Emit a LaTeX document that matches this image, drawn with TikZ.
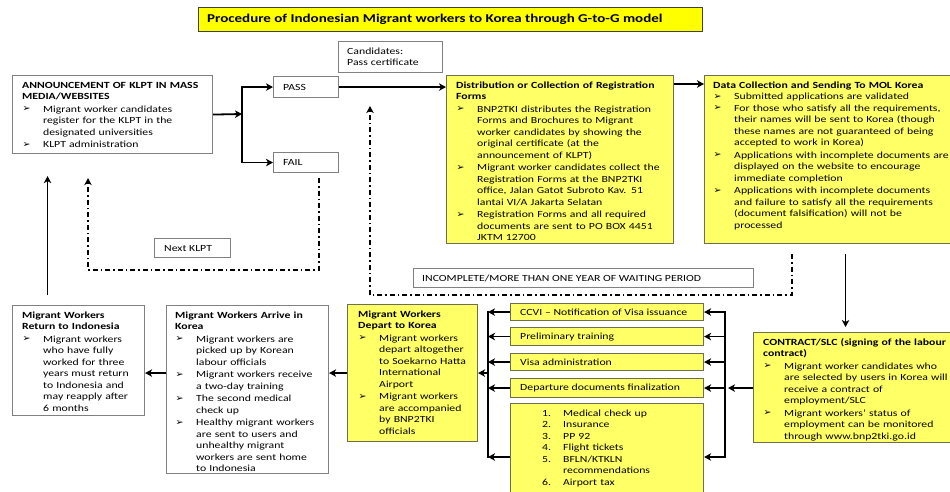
\documentclass[tikz,border=0pt]{standalone}
\usepackage{fontspec}
\usepackage{array}
\setmainfont{Carlito}[FakeStretch=1.25]
\newfontfamily\bulf{DejaVu Sans}[Scale=1.0]
\usetikzlibrary{arrows.meta}
\definecolor{yel}{HTML}{FFFF66}
\definecolor{ttl}{HTML}{FFFF00}
\definecolor{bord}{HTML}{808080}
\definecolor{ybord}{HTML}{6E6E50}
\tikzset{
 whitebox/.style={draw=bord, line width=1.1pt, fill=white},
 yelbox/.style={draw=ybord, line width=1.1pt, fill=yel},
 titlebox/.style={draw=black!75, line width=1.1pt, fill=ttl},
 arr/.style={line width=1.8pt, -{Stealth[length=7pt,width=7.5pt,inset=2pt]}},
 ln/.style={line width=1.8pt, line cap=rect},
 dd/.style={line width=2pt, dash pattern=on 5pt off 3pt on 1.5pt off 3pt},
 dda/.style={dd, -{Stealth[length=7pt,width=7.5pt,inset=2pt]}},
}
\newcommand\bodyf{\fontsize{9.4}{11.5}\selectfont}
\newcommand\itm[1]{\par\noindent\makebox[21pt][l]{\hspace{0.5pt}\raisebox{0.3pt}{\bulf\char"27A2}}\begin{tabular}[t]{@{}l@{}}#1\end{tabular}\par}
\newcommand\hd[1]{\noindent{\bfseries\begin{tabular}[t]{@{}>{\bfseries}l@{}}#1\end{tabular}}}
\newcommand\tbox[8]{%
 \pgfmathsetmacro\bxw{#5-#3}\pgfmathsetmacro\bxh{#6-#4}\pgfmathsetmacro\bxt{#5-#3-2*#7}%
 \node[#2, anchor=north west, minimum width=\bxw pt, minimum height=\bxh pt, inner sep=0pt] (#1) at (#3,#4) {};
 \node[anchor=north west, text width=\bxt pt, inner xsep=#7pt, inner ysep=5pt, align=left, font=\bodyf] (#1-t) at (#1.north west) {#8};
}
\newcommand\lbox[8]{%
 \pgfmathsetmacro\bxw{#5-#3}\pgfmathsetmacro\bxh{#6-#4}%
 \node[#2, anchor=north west, minimum width=\bxw pt, minimum height=\bxh pt, inner sep=0pt] (#1) at (#3,#4) {};
 \node[anchor=west, inner xsep=#7pt, inner ysep=0pt, font=\bodyf] (#1-t) at (#1.west) {#8};
}
\begin{document}
\begin{tikzpicture}[x=1pt,y=-1pt]
\useasboundingbox (0,0) rectangle (950,491);
\clip (0,0) rectangle (950,491);
\fill[white] (0,0) rectangle (950,491);

% title
\lbox{title}{titlebox}{198}{7}{702}{31}{9}{\fontsize{12}{14}\selectfont\bfseries Procedure of Indonesian Migrant workers to Korea through G-to-G model}

% top row
\tbox{ann}{whitebox}{12}{75}{212}{153}{10}{\hd{ANNOUNCEMENT OF KLPT IN MASS\\MEDIA/WEBSITES}
\itm{Migrant worker candidates\\register for the KLPT in the\\designated universities}
\itm{KLPT administration}}

\tbox{cand}{whitebox}{338}{41}{442}{72}{9}{\noindent\begin{tabular}[t]{@{}l@{}}Candidates:\\Pass certificate\end{tabular}}

\lbox{pass}{whitebox}{273}{76}{338}{97}{10}{PASS}
\lbox{fail}{whitebox}{273}{152}{338}{172}{10}{FAIL}

\tbox{dist}{yelbox}{446}{75}{673}{243}{10}{\hd{Distribution or Collection of Registration\\Forms}
\itm{BNP2TKI distributes the Registration\\Forms and Brochures to Migrant\\worker candidates by showing the\\original certificate (at the\\announcement of KLPT)}
\itm{Migrant worker candidates collect the\\Registration Forms at the BNP2TKI\\office, Jalan Gatot Subroto Kav. 51\\lantai VI/A Jakarta Selatan}
\itm{Registration Forms and all required\\documents are sent to PO BOX 4451\\JKTM 12700}}

\tbox{data}{yelbox}{704}{75}{962}{243}{9}{\hd{Data Collection and Sending To MOL Korea}
\itm{Submitted applications are validated}
\itm{For those who satisfy all the requirements,\\their names will be sent to Korea (though\\these names are not guaranteed of being\\accepted to work in Korea)}
\itm{Applications with incomplete documents are\\displayed on the website to encourage\\immediate completion}
\itm{Applications with incomplete documents\\and failure to satisfy all the requirements\\(document falsification) will not be\\processed}}

\lbox{nextk}{whitebox}{154}{238}{230}{257}{10}{Next KLPT}
\lbox{inc}{whitebox}{413}{268}{753}{287}{9}{INCOMPLETE/MORE THAN ONE YEAR OF WAITING PERIOD}

% bottom row
\tbox{ret}{whitebox}{12}{305}{144}{415}{10}{\hd{Migrant Workers\\Return to Indonesia}
\itm{Migrant workers\\who have fully\\worked for three\\years must return\\to Indonesia and\\may reapply after\\6 months}}

\tbox{arv}{whitebox}{166}{305}{328}{473}{9}{\hd{Migrant Workers Arrive in\\Korea}
\itm{Migrant workers are\\picked up by Korean\\labour officials}
\itm{Migrant workers receive\\a two-day training}
\itm{The second medical\\check up}
\itm{Healthy migrant workers\\are sent to users and\\unhealthy migrant\\workers are sent home\\to Indonesia}}

\tbox{dpt}{yelbox}{347}{304}{477}{441}{11}{\hd{Migrant Workers\\Depart to Korea}
\itm{Migrant workers\\depart altogether\\to Soekarno Hatta\\International\\Airport}
\itm{Migrant workers\\are accompanied\\by BNP2TKI\\officials}}

\lbox{ccvi}{yelbox}{510}{303}{703}{320}{10}{CCVI -- Notification of Visa issuance}
\lbox{prel}{yelbox}{510}{327}{703}{345}{10}{Preliminary training}
\lbox{visa}{yelbox}{510}{353}{703}{370}{10}{Visa administration}
\lbox{dep}{yelbox}{510}{378}{703}{397}{10}{Departure documents finalization}
\tbox{lst}{yelbox}{510}{403}{703}{505}{32}{\noindent\begin{tabular}[t]{@{}p{21pt}@{}l@{}}
1.&Medical check up\\
2.&Insurance\\
3.&PP 92\\
4.&Flight tickets\\
5.&BFLN/KTKLN\\
&recommendations\\
6.&Airport tax
\end{tabular}}

\tbox{con}{yelbox}{753}{332}{962}{442}{10}{\hd{CONTRACT/SLC (signing of the labour\\contract)}
\itm{Migrant worker candidates who\\are selected by users in Korea will\\receive a contract of\\employment/SLC}
\itm{Migrant workers' status of\\employment can be monitored\\through www.bnp2tki.go.id}}

% connectors: top
\coordinate (jn) at (242,114);
\draw[arr] (ann.east) -- (jn);
\draw[ln] (jn |- pass.west) -- (jn |- fail.west);
\draw[arr] (jn |- pass.west) -- (pass.west);
\draw[arr] (jn |- fail.west) -- (fail.west);
\draw[arr] (pass.east) -- (pass.east -| dist.west);
\draw[arr] ([yshift=-9pt]dist.north east) -- ([yshift=-9pt]data.north west);

% fail loop
\coordinate (fA) at ([xshift=12.5pt,yshift=-5pt]fail.south);
\coordinate (fB) at (88,270);
\coordinate (fC) at ([yshift=-24pt]ann.south -| fB);
\draw[dda] (fA) |- (fB) -- (fC);

% return to announcement
\draw[arr] ([xshift=-31pt,yshift=10pt]ret.north) -- ([xshift=-65pt,yshift=-22pt]ann.south);

% incomplete loop
\coordinate (dA) at ([xshift=-42pt,yshift=-10pt]data.south);
\coordinate (dB) at (370,295);
\coordinate (dC) at ([yshift=-19pt]pass.east -| dB);
\draw[dda] (dA) |- (dB) -- (dC);

% data to contract
\coordinate (dc) at ([xshift=12pt]data.south);
\coordinate (dc2) at (dc |- con.north);
\draw[arr] ([yshift=-10pt]dc) -- ([yshift=5pt]dc2);

% right bus
\coordinate (rbx) at (725,0);
\coordinate (lstr) at ([yshift=-54pt]lst.north east);
\coordinate (lstl) at ([yshift=-54pt]lst.north west);
\draw[ln] (rbx |- ccvi.east) -- (rbx |- lstr);
\foreach \b in {ccvi,prel,visa,dep} \draw[arr] (rbx |- \b.east) -- (\b.east);
\draw[arr] (rbx |- lstr) -- (lstr);
\draw[arr] (con.west |- dep.east) -- ([xshift=3pt]rbx |- dep.east);

% left bus
\coordinate (lbx) at (488,0);
\draw[ln] (lbx |- ccvi.west) -- (lbx |- lstl);
\foreach \b in {ccvi,prel,visa,dep} \draw[arr] (\b.west) -- (lbx |- \b.west);
\draw[arr] (lstl) -- (lbx |- lstl);
\draw[arr] (lbx |- dpt.east) -- (dpt.east);

% bottom row arrows
\draw[arr] (dpt.west) -- (dpt.west -| arv.east);
\draw[arr] (arv.west |- dpt.west) -- (ret.east |- dpt.west);
\end{tikzpicture}
\end{document}
